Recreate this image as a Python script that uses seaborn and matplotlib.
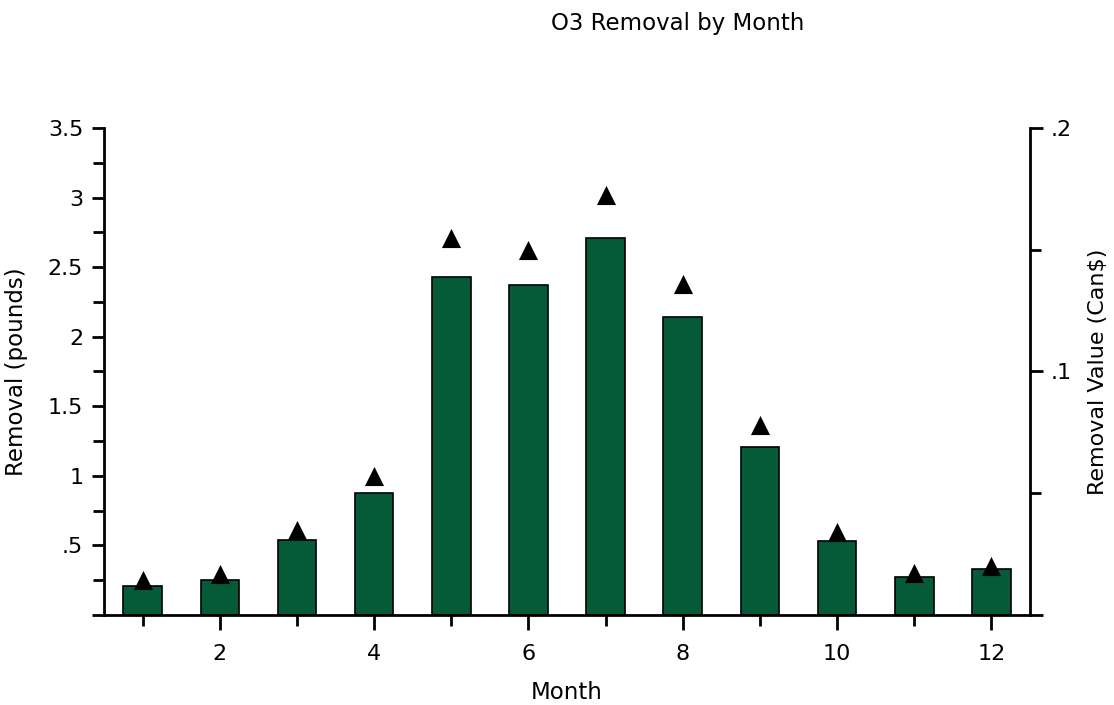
import pandas as pd
import seaborn as sns
from matplotlib import pyplot as plt
from matplotlib.ticker import MultipleLocator, FuncFormatter

months = [1, 2, 3, 4, 5, 6, 7, 8, 9, 10, 11, 12]
removal_pounds = [0.21, 0.25, 0.54, 0.88, 2.43, 2.37, 2.71, 2.14, 1.21, 0.53, 0.27, 0.33]
removal_value = [0.0144, 0.0168, 0.035, 0.057, 0.155, 0.150, 0.1725, 0.136, 0.078, 0.034, 0.0172, 0.020]

df = pd.DataFrame({'month': months, 'removal': removal_pounds, 'value': removal_value})

sns.set_style('ticks')
plt.rcParams['font.family'] = ['DejaVu Sans']
plt.rcParams['text.color'] = 'black'
plt.rcParams['axes.labelcolor'] = 'black'
plt.rcParams['xtick.color'] = 'black'
plt.rcParams['ytick.color'] = 'black'

fig = plt.figure(figsize=(11.14, 7.05), dpi=100)
ax = fig.add_axes([0.0934, 0.1277, 0.8312, 0.6907])

sns.barplot(data=df, x='month', y='removal', native_scale=True, width=0.5,
            color='#055a37', saturation=1, edgecolor='black', linewidth=1.2, ax=ax)

ax2 = ax.twinx()
sns.scatterplot(data=df, x='month', y='value', marker='^', s=190, color='black',
                edgecolor='black', linewidth=0, ax=ax2, legend=False)


def strip_zero(v, pos):
    if abs(v) < 1e-9:
        return ''
    s = f'{v:g}'
    if s.startswith('0.'):
        s = s[1:]
    return s


ax.set_xlim(0.5, 12.5)
ax.set_ylim(0, 3.5)
ax2.set_ylim(0, 0.2)
ax.xaxis.set_major_locator(MultipleLocator(2))
ax.xaxis.set_minor_locator(MultipleLocator(1))
ax.yaxis.set_major_locator(MultipleLocator(0.5))
ax.yaxis.set_minor_locator(MultipleLocator(0.25))
ax2.yaxis.set_major_locator(MultipleLocator(0.1))
ax2.yaxis.set_minor_locator(MultipleLocator(0.05))
ax.yaxis.set_major_formatter(FuncFormatter(strip_zero))
ax2.yaxis.set_major_formatter(FuncFormatter(strip_zero))
ax.xaxis.set_major_formatter(FuncFormatter(lambda v, p: f'{int(v)}'))

for a in (ax, ax2):
    a.spines['top'].set_visible(False)
    for sp in a.spines.values():
        sp.set_linewidth(2)
        sp.set_color('black')
    a.tick_params(which='both', width=2, length=8, color='black', labelsize=16,
                  labelcolor='black', direction='out', pad=6)
    a.tick_params(which='major', length=9)
ax.spines['right'].set_visible(False)
ax2.spines['left'].set_visible(False)
ax2.spines['bottom'].set_visible(False)
ax.tick_params(axis='x', which='major', length=11, pad=10)

ax.set_xlabel('Month', fontsize=16.5, labelpad=12)
ax.set_ylabel('Removal (pounds)', fontsize=16.5, labelpad=14)
ax2.set_ylabel('Removal Value (Can$)', fontsize=16, rotation=90, va='center')
ax2.yaxis.set_label_coords(1.0735, 0.5)
ax2.set_xlabel('')

fig.text(0.608, 0.967, 'O3 Removal by Month', ha='center', va='center', fontsize=16.5)

plt.savefig('out.png', dpi=100)
